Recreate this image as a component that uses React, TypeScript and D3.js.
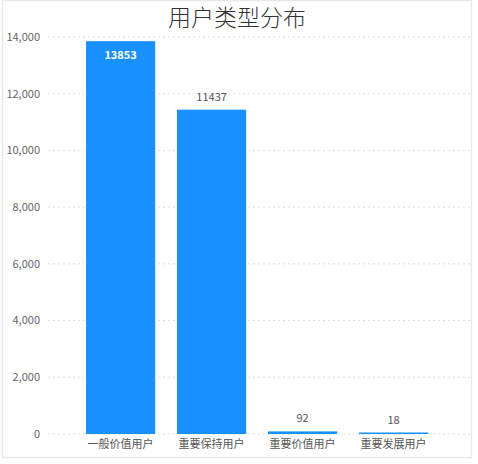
import React from "react";
import * as d3 from "d3";

const title = "用户类型分布";
const categories = ["一般价值用户", "重要保持用户", "重要价值用户", "重要发展用户"];
const values = [13853, 11437, 92, 18];
const yTicks = [0, 2000, 4000, 6000, 8000, 10000, 12000, 14000];

const W = 478;
const H = 464;
const FONT = "'Microsoft YaHei', 'Noto Sans CJK SC', sans-serif";

export default function App() {
  const y = d3.scaleLinear().domain([0, 14000]).range([434, 37]);
  const x = d3
    .scaleBand<string>()
    .domain(categories)
    .range([64.2, 450])
    .paddingInner(0.24)
    .paddingOuter(0.24);
  const fmt = d3.format(",");
  const bw = x.bandwidth();
  return (
    <svg
      width={W}
      height={H}
      style={{ position: "absolute", left: 0, top: 0, background: "#fff" }}
      fontFamily={FONT}
    >
      <rect x={2.5} y={0.5} width={469} height={457} fill="none" stroke="#e8e8e8" strokeWidth={1.5} />
      {yTicks.map((t) => (
        <g key={t}>
          <line
            x1={48}
            x2={470}
            y1={y(t)}
            y2={y(t)}
            stroke="#dcdcdc"
            strokeWidth={1}
            strokeDasharray="2,3"
          />
          <text x={40} y={y(t)} dy="0.35em" textAnchor="end" fontSize={11} fill="#666">
            {fmt(t)}
          </text>
        </g>
      ))}
      <text x={237} y={26} textAnchor="middle" fontSize={23} fill="#333" fontWeight={300}>
        {title}
      </text>
      {categories.map((c, i) => {
        const v = values[i];
        const x0 = x(c) as number;
        const top = y(v);
        const h = Math.max(y(0) - top, 1.5);
        const inside = top - 20 < 37;
        return (
          <g key={c}>
            <rect x={x0} y={y(0) - h} width={bw} height={h} fill="#1890ff" />
            {inside ? (
              <text
                x={x0 + bw / 2}
                y={top + 14}
                dy="0.35em"
                textAnchor="middle"
                fontSize={11}
                fontWeight="bold"
                fill="#fff"
              >
                {v}
              </text>
            ) : (
              <text
                x={x0 + bw / 2}
                y={y(0) - h - 10}
                dy="0.1em"
                textAnchor="middle"
                fontSize={11}
                fill="#555"
              >
                {v}
              </text>
            )}
            <text x={x0 + bw / 2} y={444} dy="0.35em" textAnchor="middle" fontSize={11} fill="#555">
              {c}
            </text>
          </g>
        );
      })}
    </svg>
  );
}
